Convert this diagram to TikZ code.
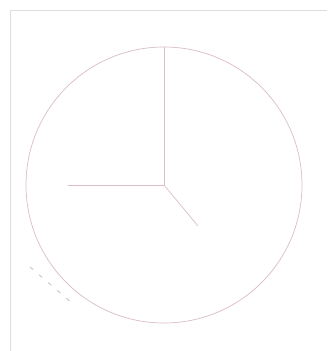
\documentclass[tikz,border=0pt]{standalone}
\definecolor{framec}{RGB}{222,222,222}
\definecolor{handc}{RGB}{218,190,196}
\definecolor{dashc}{RGB}{190,190,190}
\tikzset{
  framel/.style={draw=framec, line width=0.6pt},
  handl/.style={draw=handc, line width=0.7pt},
  faint/.style={draw=dashc, line width=0.8pt, dash pattern=on 4pt off 8pt}
}
\begin{document}
\begin{tikzpicture}[x=1pt,y=-1pt]
\useasboundingbox (0,0) rectangle (327,351);
\fill[white] (0,0) rectangle (327,351);
% frame
\draw[framel] (10,351) -- (10,10) -- (327,10);
% clock
\coordinate (c) at (164,185);
\coordinate (h12) at (164,47);
\coordinate (h9) at (68,185);
\coordinate (h4) at (198,226);
\draw[handl] (c) circle (138);
\draw[handl] (c) -- (h12);
\draw[handl] (c) -- (h9);
\draw[handl] (c) -- (h4);
% faint dashed trace
\coordinate (d1) at (30,267);
\coordinate (d2) at (72,303);
\draw[faint] (d1) -- (d2);
\end{tikzpicture}
\end{document}
